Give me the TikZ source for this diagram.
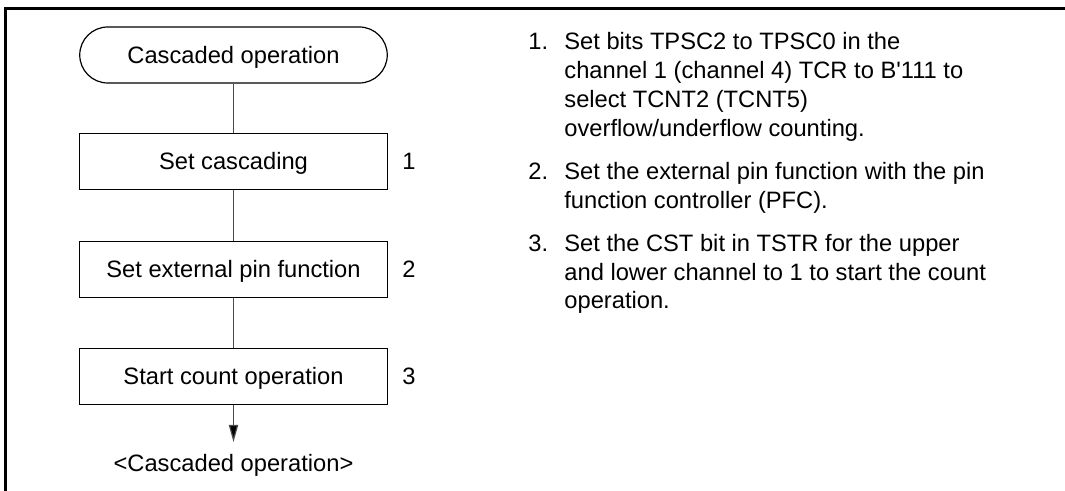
\documentclass[tikz,border=0pt]{standalone}
\usepackage{fontspec}
\setmainfont{Liberation Sans}
\usetikzlibrary{arrows.meta}
\begin{document}
\begin{tikzpicture}[x=0.5pt,y=-0.5pt,
  txt/.style={font=\fontsize{11.85pt}{14.4pt}\selectfont, inner sep=0pt},
  stepbox/.style={draw=black, line width=0.6pt, minimum width=153.75pt, minimum height=28pt, inner sep=0pt, text height=8.5pt, text depth=0pt, font=\fontsize{11.85pt}{14.4pt}\selectfont},
  termbox/.style={stepbox, rounded corners=14pt},
  conn/.style={draw=black!70, line width=0.6pt},
  framelines/.style={line width=1.3pt}]
\useasboundingbox (0,0) rectangle (1065,491);
\draw[framelines] (5.3,491) -- (5.3,8.5) -- (1065,8.5);
% flow chart
\node[termbox] (t0) at (233.5,55) {Cascaded operation};
\node[stepbox] (s1) at (233.5,161.5) {Set cascading};
\node[stepbox] (s2) at (233.5,269.5) {Set external pin function};
\node[stepbox] (s3) at (233.5,376.5) {Start count operation};
\node[txt] (n1) at (409,161.5) {1};
\node[txt] (n2) at (409,269.5) {2};
\node[txt] (n3) at (409,376.5) {3};
\draw[conn] (t0) -- (s1);
\draw[conn] (s1) -- (s2);
\draw[conn] (s2) -- (s3);
\coordinate (tip) at (233.5,442);
\draw[conn, -{Triangle[length=8.5pt,width=4.6pt,fill=black]}] (s3) -- (tip);
\node[txt, anchor=base] (endtxt) at (233.5,472) {<Cascaded operation>};
% descriptions
\node[txt, anchor=base west] (d1) at (528,50) {1.};
\node[txt, anchor=base west] (d1a) at (564,50) {Set bits TPSC2 to TPSC0 in the};
\node[txt, anchor=base west] (d1b) at (564,78.75) {channel 1 (channel 4) TCR to B{\textquotesingle}111 to};
\node[txt, anchor=base west] (d1c) at (564,107.5) {select TCNT2 (TCNT5)};
\node[txt, anchor=base west] (d1d) at (564,136.25) {overflow/underflow counting.};
\node[txt, anchor=base west] (d2) at (528,179.5) {2.};
\node[txt, anchor=base west] (d2a) at (564,179.5) {Set the external pin function with the pin};
\node[txt, anchor=base west] (d2b) at (564,208.25) {function controller (PFC).};
\node[txt, anchor=base west] (d3) at (528,251.5) {3.};
\node[txt, anchor=base west] (d3a) at (564,251.5) {Set the CST bit in TSTR for the upper};
\node[txt, anchor=base west] (d3b) at (564,280.25) {and lower channel to 1 to start the count};
\node[txt, anchor=base west] (d3c) at (564,309) {operation.};
\end{tikzpicture}
\end{document}
